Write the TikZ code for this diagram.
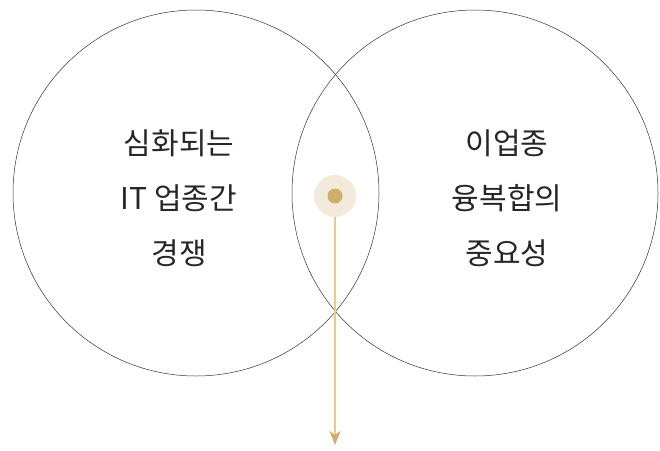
\documentclass[tikz,border=0pt]{standalone}
\usepackage{fontspec}
\setmainfont{Noto Sans CJK KR}
\usetikzlibrary{arrows.meta}
\definecolor{goldline}{HTML}{E6CB97}
\definecolor{golddot}{HTML}{D0AE6A}
\definecolor{goldhalo}{HTML}{F3EADB}

\begin{document}
\begin{tikzpicture}[x=1pt, y=-1pt,
	ring/.style={draw=black!80, line width=0.5pt, circle, minimum size=366pt, inner sep=0pt},
	venntext/.style={font=\fontsize{30}{55}\selectfont, align=center, text=black!85}]
	\useasboundingbox (0,0) rectangle (660,450);
	\node[ring] (left) at (196,193) {};
	\node[ring] (right) at (475,193) {};
	\node[circle, fill=goldhalo, minimum size=42pt, inner sep=0pt] (halo) at (335,196) {};
	\node[circle, fill=golddot, minimum size=15pt, inner sep=0pt] (dot) at (335,196) {};
	\coordinate (end) at (335,445);
	\draw[goldline, line width=1.5pt, -{Stealth[length=14pt, width=11pt, inset=4pt, color=golddot]}] (halo.south) -- (end);
	\node[venntext] (lefttext) at (179,198) {심화되는\\IT 업종간\\경쟁};
	\node[venntext] (righttext) at (507,198) {이업종\\융복합의\\중요성};
\end{tikzpicture}
\end{document}
